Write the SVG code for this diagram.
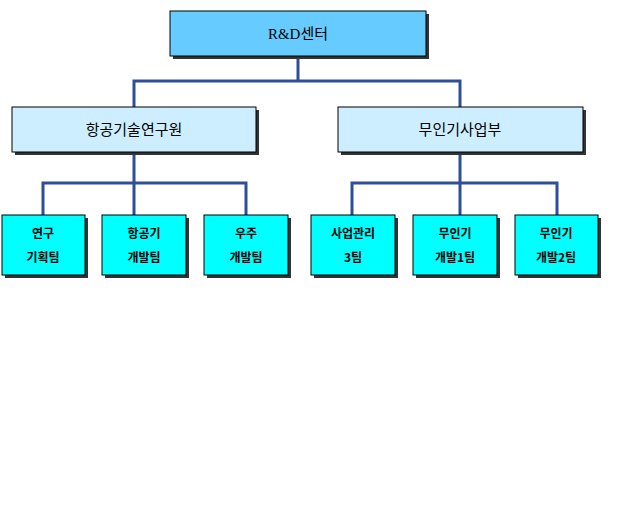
<svg xmlns="http://www.w3.org/2000/svg" width="640" height="512" viewBox="0 0 640 512">
<style>
.sh{fill:#333}
.b{stroke:#000;stroke-width:1}
.t{font-family:"Noto Sans CJK KR","Liberation Sans",sans-serif;text-anchor:middle;fill:#000}
.s{font-size:12px;font-weight:bold}
.m{font-size:15px}
.c{fill:none;stroke:#2e4e9a;stroke-width:3}
</style>
<rect width="640" height="512" fill="#fff"/>
<g id="connectors">
<path class="c" d="M298 56V81M134 107V81H460V107"/>
<path class="c" d="M134 152V183M43 215V183H246V215M134 183V215"/>
<path class="c" d="M460 152V183M352 215V183H557V215M460 183V215"/>
</g>
<g id="rnd"><rect class="sh" x="173" y="14" width="256" height="45"/><rect class="b" x="170" y="11" width="256" height="45" fill="#66ccff"/><text class="t" x="298" y="39" font-size="15" font-family="Liberation Serif,Noto Sans CJK KR,serif" style="font-family:'Liberation Serif','Noto Sans CJK KR',serif">R&amp;D센터</text></g>
<g id="aero"><rect class="sh" x="15" y="110" width="244" height="45"/><rect class="b" x="12" y="107" width="244" height="45" fill="#cceeff"/><text class="t m" x="134" y="135">항공기술연구원</text></g>
<g id="uav"><rect class="sh" x="341" y="110" width="245" height="45"/><rect class="b" x="338" y="107" width="245" height="45" fill="#cceeff"/><text class="t m" x="460" y="135">무인기사업부</text></g>
<g id="b1"><rect class="sh" x="5" y="218" width="83" height="60"/><rect class="b" x="2" y="215" width="83" height="60" fill="#00ffff"/><text class="t s" x="43" y="238">연구</text><text class="t s" x="43" y="262">기획팀</text></g>
<g id="b2"><rect class="sh" x="105" y="218" width="84" height="60"/><rect class="b" x="102" y="215" width="84" height="60" fill="#00ffff"/><text class="t s" x="144" y="238">항공기</text><text class="t s" x="144" y="262">개발팀</text></g>
<g id="b3"><rect class="sh" x="207" y="218" width="84" height="60"/><rect class="b" x="204" y="215" width="84" height="60" fill="#00ffff"/><text class="t s" x="246" y="238">우주</text><text class="t s" x="246" y="262">개발팀</text></g>
<g id="b4"><rect class="sh" x="314" y="218" width="84" height="60"/><rect class="b" x="311" y="215" width="84" height="60" fill="#00ffff"/><text class="t s" x="353" y="238">사업관리</text><text class="t s" x="353" y="262">3팀</text></g>
<g id="b5"><rect class="sh" x="416" y="218" width="84" height="60"/><rect class="b" x="413" y="215" width="84" height="60" fill="#00ffff"/><text class="t s" x="455" y="238">무인기</text><text class="t s" x="455" y="262">개발1팀</text></g>
<g id="b6"><rect class="sh" x="518" y="218" width="83" height="60"/><rect class="b" x="515" y="215" width="83" height="60" fill="#00ffff"/><text class="t s" x="556" y="238">무인기</text><text class="t s" x="556" y="262">개발2팀</text></g>
</svg>
